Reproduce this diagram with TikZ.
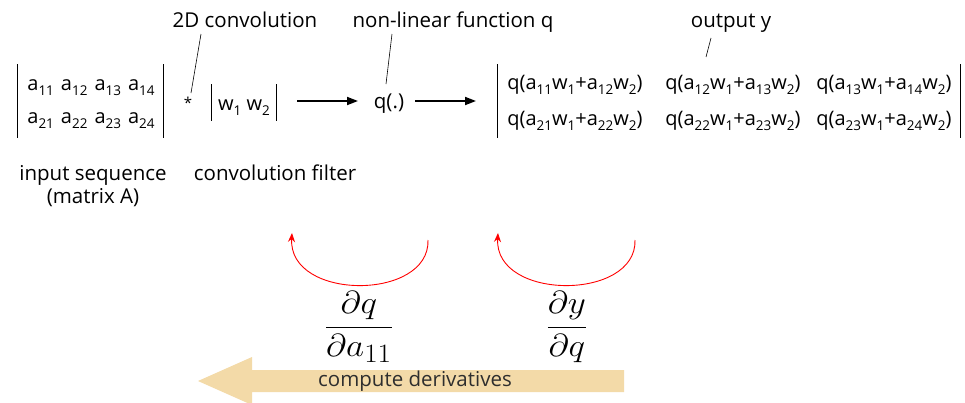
\documentclass[tikz,border=0pt]{standalone}
\usepackage{graphicx}
\usepackage[no-math]{fontspec}
\setmainfont{Open Sans}
\usetikzlibrary{arrows.meta}
\newcommand\subs[1]{\raisebox{-0.5ex}{\fontsize{13.5}{14}\selectfont #1}}
\newcommand\gap{\hspace{7pt}}
\definecolor{tanarrow}{HTML}{F3DAA8}
\begin{document}
\begin{tikzpicture}[x=1pt,y=-1pt,
  lbl/.style={font=\fontsize{20.5}{24}\selectfont, inner sep=0pt, anchor=base},
  ent/.style={font=\fontsize{20}{24}\selectfont, inner sep=0pt, anchor=base},
  bar/.style={line width=0.9pt},
  flow/.style={line width=1.8pt, -{Triangle[length=11pt,width=8pt]}},
  tick/.style={line width=0.6pt},
  back/.style={red, line width=0.9pt, -{Stealth[length=9pt,width=7pt]}},
  frac/.style={font=\fontsize{24.88}{30}\selectfont, inner sep=0pt, anchor=base}]
\useasboundingbox (0,0) rectangle (965,402);

% header labels
\node[lbl] (conv) at (245,27) {2D convolution};
\node[lbl] (nonlin) at (453,27) {non-linear function q};
\node[lbl] (outy) at (731,27) {output y};

% left matrix
\node[ent] (a1) at (91,90) {a\subs{11}\gap a\subs{12}\gap a\subs{13}\gap a\subs{14}};
\node[ent] (a2) at (91,123) {a\subs{21}\gap a\subs{22}\gap a\subs{23}\gap a\subs{24}};
\coordinate (AL1) at (17,64); \coordinate (AL2) at (17,138);
\coordinate (AR1) at (163,64); \coordinate (AR2) at (163,138);
\draw[bar] (AL1) -- (AL2);
\draw[bar] (AR1) -- (AR2);

% convolution star
\node[inner sep=0pt, font=\fontsize{15}{15}\selectfont] (star) at (188,103) {*};

% filter
\node[ent] (w) at (244,110) {w\subs{1} w\subs{2}};
\coordinate (WL1) at (211,84); \coordinate (WL2) at (211,121);
\coordinate (WR1) at (276,84); \coordinate (WR2) at (276,121);
\draw[bar] (WL1) -- (WL2);
\draw[bar] (WR1) -- (WR2);

% q(.)
\node[lbl] (q) at (389,108) {q(.)};

% right matrix
\node[ent] (y11) at (575,89) {q(a\subs{11}w\subs{1}+a\subs{12}w\subs{2})};
\node[ent] (y12) at (733,89) {q(a\subs{12}w\subs{1}+a\subs{13}w\subs{2})};
\node[ent] (y13) at (884,89) {q(a\subs{13}w\subs{1}+a\subs{14}w\subs{2})};
\node[ent] (y21) at (575,125) {q(a\subs{21}w\subs{1}+a\subs{22}w\subs{2})};
\node[ent] (y22) at (733,125) {q(a\subs{22}w\subs{1}+a\subs{23}w\subs{2})};
\node[ent] (y23) at (884,125) {q(a\subs{23}w\subs{1}+a\subs{24}w\subs{2})};
\coordinate (YL1) at (497,64); \coordinate (YL2) at (497,138);
\coordinate (YR1) at (960,64); \coordinate (YR2) at (960,138);
\draw[bar] (YL1) -- (YL2);
\draw[bar] (YR1) -- (YR2);

% flow arrows
\coordinate (f1s) at (297,101); \coordinate (f1e) at (358,101);
\coordinate (f2s) at (415,101); \coordinate (f2e) at (476,101);
\draw[flow] (f1s) -- (f1e);
\draw[flow] (f2s) -- (f2e);

% pointer ticks
\coordinate (t1a) at (201,34); \coordinate (t1b) at (191,93);
\coordinate (t2a) at (392,34); \coordinate (t2b) at (386,84);
\coordinate (t3a) at (711,38); \coordinate (t3b) at (706,57);
\draw[tick] (t1a) -- (t1b);
\draw[tick] (t2a) -- (t2b);
\draw[tick] (t3a) -- (t3b);

% bottom labels
\node[lbl] (inp) at (93,180) {input sequence};
\node[lbl] (matA) at (93,203) {(matrix A)};
\node[lbl] (filt) at (275,180) {convolution filter};

% red back arcs
\coordinate (r1s) at (428,240); \coordinate (r1e) at (292,233);
\coordinate (r2s) at (635,240); \coordinate (r2e) at (498,233);
\draw[back] (r1s) .. controls (430,301) and (288,301) .. (r1e);
\draw[back] (r2s) .. controls (637,301) and (494,301) .. (r2e);

% derivatives
\node[frac] (dqda) at (359,335) {\scalebox{1.41}[1.28]{$\displaystyle\frac{\partial q}{\partial a_{11}}$}};
\node[frac] (dydq) at (567,335) {\scalebox{1.41}[1.28]{$\displaystyle\frac{\partial y}{\partial q}$}};

% big arrow
\fill[tanarrow] (624,370) -- (252,370) -- (252,357) -- (198,381) -- (252,405) -- (252,392) -- (624,392) -- cycle;
\node[font=\fontsize{20.5}{24}\selectfont, text=black!82, inner sep=0pt] (comp) at (415,381) {compute derivatives};
\end{tikzpicture}
\end{document}
